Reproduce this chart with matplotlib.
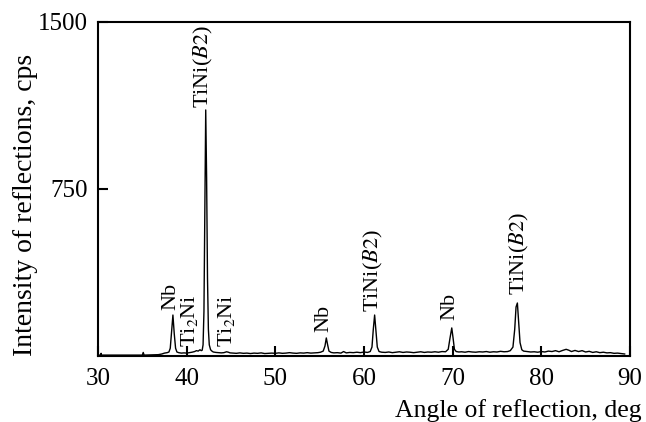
import matplotlib
matplotlib.use("Agg")
import matplotlib.pyplot as plt

plt.rcParams['font.family'] = ['Liberation Serif', 'DejaVu Serif']
plt.rcParams['mathtext.fontset'] = 'stix'

# Diffraction pattern (angle, deg / intensity, cps)
two_theta = [
    30.0, 30.3, 30.35, 30.4, 31.0, 32.0, 33.0, 34.0, 35.0, 35.1, 35.2, 36.0, 36.8, 37.2, 37.5, 37.8,
    38.0, 38.15, 38.3, 38.45, 38.6, 38.75, 38.9, 39.1, 39.4, 39.7, 40.0, 40.3, 40.6, 40.9, 41.1,
    41.3, 41.5, 41.65, 41.75, 41.85, 41.95, 42.05, 42.15, 42.25, 42.35, 42.45, 42.55, 42.7, 42.85,
    43.0, 43.3, 43.6, 43.9, 44.2, 44.5, 44.7, 44.9, 45.2, 45.6, 46.0, 46.4, 46.8, 47.2, 47.6, 48.0,
    48.4, 48.8, 49.2, 49.6, 50.0, 50.4, 50.8, 51.2, 51.6, 52.0, 52.4, 52.8, 53.2, 53.6, 54.0, 54.4,
    54.8, 55.1, 55.4, 55.6, 55.75, 55.9, 56.05, 56.3, 56.6, 57.0, 57.4, 57.7, 58.0, 58.4, 58.8,
    59.2, 59.6, 60.0, 60.4, 60.7, 60.9, 61.05, 61.2, 61.35, 61.5, 61.7, 62.0, 62.4, 62.8, 63.2,
    63.6, 64.0, 64.4, 64.8, 65.2, 65.6, 66.0, 66.4, 66.8, 67.2, 67.6, 68.0, 68.4, 68.8, 69.2, 69.5,
    69.7, 69.9, 70.05, 70.2, 70.4, 70.7, 71.0, 71.4, 71.8, 72.2, 72.6, 73.0, 73.4, 73.8, 74.2, 74.6,
    75.0, 75.4, 75.8, 76.2, 76.5, 76.8, 77.0, 77.15, 77.3, 77.45, 77.6, 77.8, 78.0, 78.4, 78.8,
    79.2, 79.6, 80.0, 80.4, 80.8, 81.2, 81.6, 82.0, 82.4, 82.8, 83.1, 83.4, 83.8, 84.2, 84.6, 85.0,
    85.4, 85.8, 86.2, 86.6, 87.0, 87.4, 87.8, 88.2, 88.6, 89.0, 89.4,
]
intensity = [
    4, 4, 12, 4, 4, 4, 4, 4, 4, 16, 4, 5, 6, 9, 13, 15,
    18, 35, 110, 184, 100, 35, 18, 15, 13, 14, 13, 15, 17, 20, 24,
    22, 28, 24, 26, 50, 200, 650, 1105, 800, 350, 120, 50, 28, 22,
    18, 16, 15, 14, 15, 19, 17, 14, 13, 12, 14, 12, 13, 11, 13, 12,
    14, 11, 12, 13, 12, 14, 12, 13, 15, 13, 12, 14, 13, 15, 13, 14,
    15, 17, 22, 45, 81, 50, 22, 16, 14, 15, 13, 20, 14, 16, 15,
    17, 15, 18, 16, 20, 40, 120, 184, 110, 40, 20, 17, 16, 18, 15,
    17, 19, 16, 18, 17, 15, 17, 19, 16, 18, 17, 19, 17, 20, 19, 30,
    80, 126, 80, 30, 20, 18, 19, 17, 20, 18, 17, 19, 18, 20, 17, 19,
    18, 21, 19, 20, 24, 40, 120, 220, 238, 150, 60, 28, 22, 20, 18,
    19, 17, 20, 18, 22, 20, 24, 19, 25, 30, 26, 20, 25, 20, 24, 18,
    21, 16, 19, 15, 17, 14, 15, 12, 13, 11, 9,
]

# Phase labels: (angle, bottom of label in cps, text)
label_x = [38.25, 40.35, 41.85, 44.5, 55.5, 61.1, 69.7, 77.5]
label_y = [207, 40, 1114, 40, 108, 198, 162, 274]
label_text = ["Nb", "Ti$_2$Ni", r"TiNi($\mathit{B2}$)", "Ti$_2$Ni", "Nb",
              r"TiNi($\mathit{B2}$)", "Nb", r"TiNi($\mathit{B2}$)"]

x_ticks = [30, 40, 50, 60, 70, 80, 90]
y_ticks = [750, 1500]

fig = plt.figure(figsize=(6.46, 4.22), dpi=100)
ax = fig.add_axes([0.1517, 0.1564, 0.8235, 0.7915])

ax.plot(two_theta, intensity, color='black', linewidth=1.0)

for x, y, t in zip(label_x, label_y, label_text):
    ax.text(x, y, t, rotation=90, ha='center', va='bottom', fontsize=16)

ax.set_xlim(30, 90)
ax.set_ylim(0, 1500)
ax.set_xticks(x_ticks)
ax.set_yticks(y_ticks)
ax.tick_params(axis='both', direction='in', labelsize=18, width=1.5, length=7)
ax.tick_params(axis='x', pad=9)
ax.tick_params(axis='y', pad=7)
for s in ax.spines.values():
    s.set_linewidth(1.5)

ax.set_xlabel("Angle of reflection, deg", fontsize=18.5, ha='right', va='center')
ax.xaxis.set_label_coords(1.0226, -0.162)
ax.set_ylabel("Intensity of reflections, cps", fontsize=20, va='center')
ax.yaxis.set_label_coords(-0.137, 0.453)

fig.savefig("out.png", dpi=100)
